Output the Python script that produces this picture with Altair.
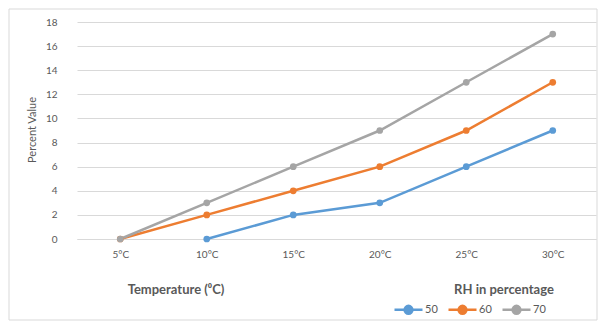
import altair as alt
import pandas as pd

temps = ["5°C", "10°C", "15°C", "20°C", "25°C", "30°C"]
rh_levels = ["50", "60", "70"]
rh50 = [None, 0, 2, 3, 6, 9]
rh60 = [0, 2, 4, 6, 9, 13]
rh70 = [0, 3, 6, 9, 13, 17]
y_ticks = [0, 2, 4, 6, 8, 10, 12, 14, 16, 18]
colors = ["#5B9BD5", "#ED7D31", "#A5A5A5"]

rows = []
for lvl, vals in zip(rh_levels, [rh50, rh60, rh70]):
    for i, (t, v) in enumerate(zip(temps, vals)):
        if v is not None:
            rows.append({"Temperature": t, "idx": i, "RH": lvl, "Value": v})
df = pd.DataFrame(rows)
one = pd.DataFrame({"a": [0]})

FONT = "Lato"
GRAY = "#595959"

legend_path = "M-1,0H-0.28A0.28,0.28 0 1,1 0.28,0A0.28,0.28 0 1,1 -0.28,0M0.28,0H1"

lines = alt.Chart(df).mark_line(
    strokeWidth=2.5,
    point=alt.OverlayMarkDef(filled=True, size=45),
).encode(
    x=alt.X("Temperature:N", sort=temps,
            scale=alt.Scale(type="point", padding=0.5),
            axis=alt.Axis(title=None, labelAngle=0, ticks=False, domain=True,
                          domainColor="#D9D9D9", labelPadding=10,
                          labelColor=GRAY, labelFontSize=10, labelFont=FONT)),
    y=alt.Y("Value:Q", scale=alt.Scale(domain=[0, 18], nice=False),
            axis=alt.Axis(title=None, values=y_ticks, ticks=False, domain=False,
                          gridColor="#D9D9D9", labelPadding=20,
                          labelColor=GRAY, labelFontSize=10, labelFont=FONT)),
    color=alt.Color("RH:N", scale=alt.Scale(domain=rh_levels, range=colors),
                    legend=alt.Legend(title=None, orient="none", legendX=316,
                                      legendY=272, direction="horizontal",
                                      symbolType=legend_path, symbolSize=784,
                                      symbolStrokeWidth=2.5, columnPadding=5,
                                      labelOffset=1, labelFontSize=11,
                                      labelColor=GRAY, labelFont=FONT)),
    order=alt.Order("idx:Q"),
)

border = alt.Chart(one).mark_rect(fill=None, stroke="#D9D9D9", strokeWidth=1).encode(
    x=alt.value(-68), x2=alt.value(520), y=alt.value(-13), y2=alt.value(298)
)

def label(text, x, y, bold=False, size=12, angle=0):
    return alt.Chart(one).mark_text(
        text=text, font=FONT, fontSize=size, color=GRAY,
        fontWeight="bold" if bold else "normal", angle=angle,
        align="center", baseline="middle",
    ).encode(x=alt.value(x), y=alt.value(y))

chart = alt.layer(
    border,
    lines,
    label("Percent Value", -44, 108, size=11, angle=270),
    label("Temperature (⁰C)", 99, 268, bold=True, size=13),
    label("RH in percentage", 427, 268, bold=True, size=13),
).properties(
    width=519, height=217,
    autosize=alt.AutoSizeParams(type="none"),
    padding={"left": 69, "top": 14, "right": 2, "bottom": 82},
).configure_view(stroke=None)

chart.save("out.html", embed_options={"renderer": "svg", "actions": False})
